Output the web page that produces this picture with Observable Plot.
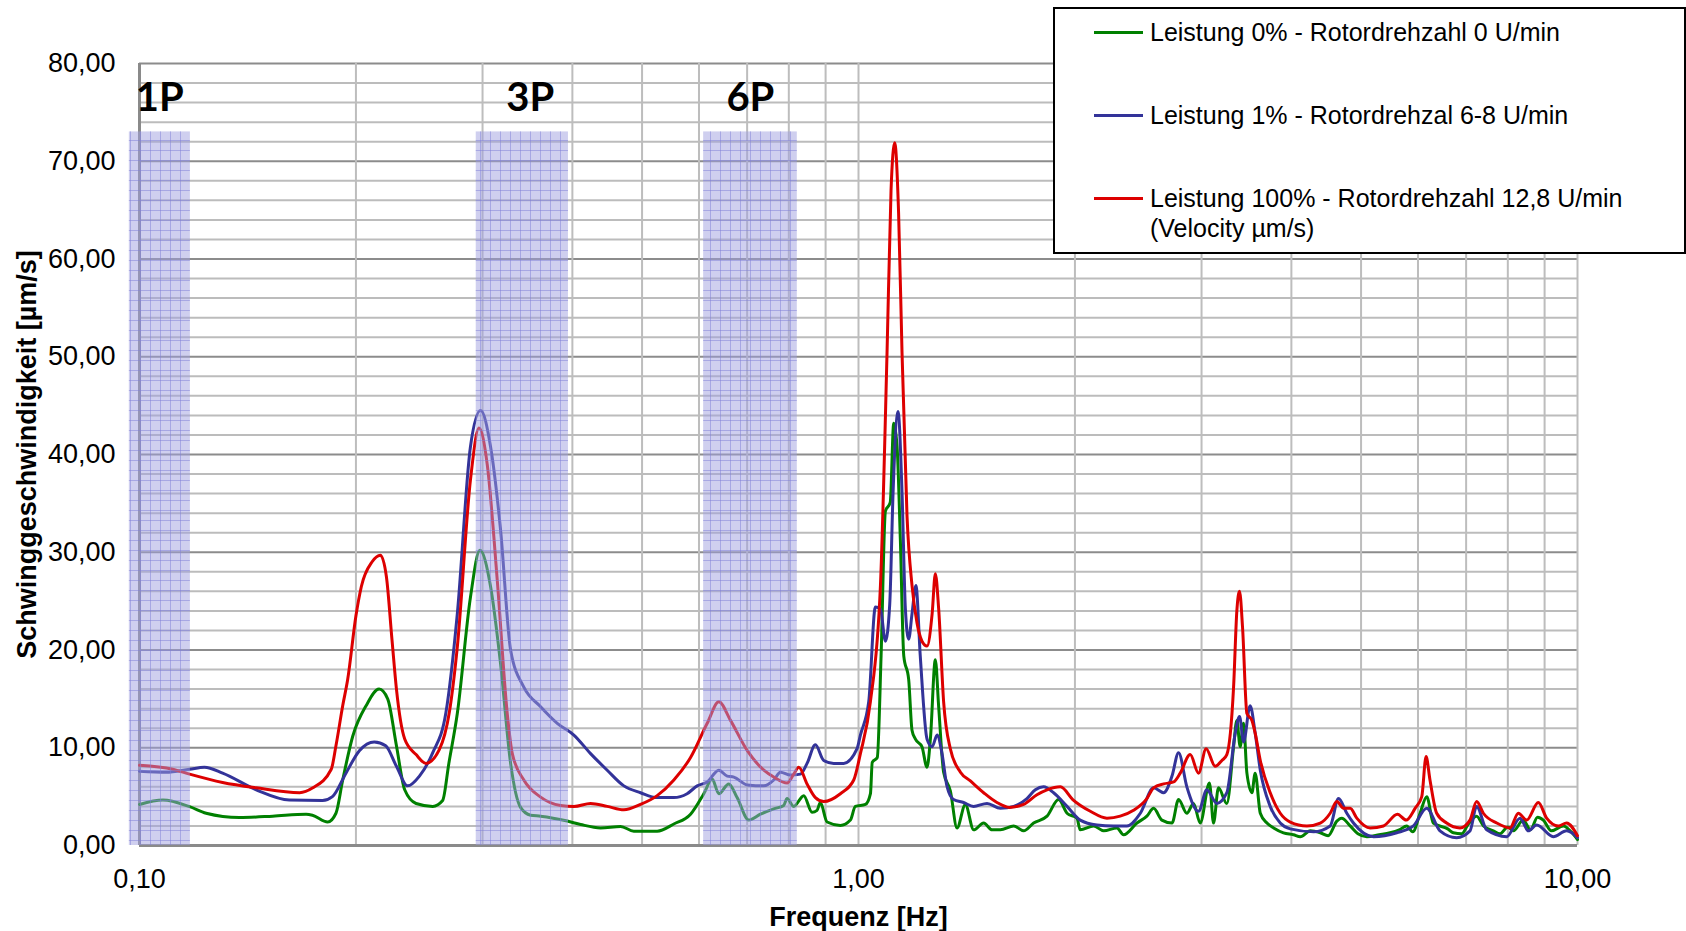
<!DOCTYPE html>
<html><head><meta charset="utf-8">
<script src="https://cdn.jsdelivr.net/npm/d3@7"></script>
<script src="https://cdn.jsdelivr.net/npm/@observablehq/plot@0.6"></script>
<style>
body{margin:0;background:#fff;}
#wrap{position:relative;width:1686px;height:931px;overflow:hidden;font-family:"Liberation Sans",Arial,sans-serif;}
#legend{position:absolute;left:1053px;top:7px;width:629px;height:243px;border:2px solid #000;background:#fff;}
.item{position:absolute;left:95px;font-size:25px;line-height:30px;color:#000;white-space:nowrap;}
.swatch{position:absolute;left:39px;width:49px;height:3px;}
</style></head><body><div id="wrap"></div>
<script>
// ---- data ----
const seriesNames = [
  "Leistung 0% - Rotordrehzahl 0 U/min",
  "Leistung 1% - Rotordrehzal 6-8 U/min",
  "Leistung 100% - Rotordrehzahl 12,8 U/min\n(Velocity µm/s)"
];
const seriesColors = ["#008000", "#333399", "#dd0000"];

const greenFreq = [0.1,0.1078,0.1174,0.1238,0.1377,0.1532,0.1705,0.174,0.1827,0.1876,0.1917,0.198,0.2066,0.2154,0.2214,0.2277,0.2338,0.2425,0.2558,0.264,0.2693,0.2767,0.2886,0.2975,0.3078,0.3178,0.3282,0.3388,0.3499,0.3613,0.3935,0.4107,0.4378,0.4667,0.487,0.5248,0.5536,0.584,0.6093,0.6259,0.6393,0.66,0.6779,0.7037,0.7304,0.7623,0.787,0.7955,0.8127,0.8391,0.8618,0.8757,0.8851,0.9043,0.9437,0.9744,0.99,1.0226,1.039,1.045,1.062,1.075,1.09,1.107,1.1194,1.1313,1.1434,1.156,1.1743,1.1869,1.1995,1.2254,1.2453,1.2589,1.279,1.2927,1.3134,1.3419,1.371,1.408,1.446,1.493,1.534,1.575,1.644,1.697,1.752,1.829,1.898,1.95,2.013,2.034,2.123,2.193,2.288,2.337,2.439,2.518,2.573,2.642,2.729,2.787,2.862,2.924,2.987,3.077,3.117,3.167,3.253,3.324,3.359,3.395,3.432,3.469,3.525,3.562,3.621,3.699,3.779,3.9,4.027,4.115,4.25,4.388,4.5,4.627,4.7,4.829,4.95,5.093,5.3,5.487,5.65,5.788,5.9,6.04,6.17,6.302,6.6,6.719,6.9,7.05,7.24,7.4,7.638,7.8,8.0,8.143,8.407,8.6,8.8,8.963,9.2,9.556,9.8,10];
const greenVel  = [4.2,4.65,3.97,3.3,2.86,3.0,3.2,3.1,2.4,3.3,6.7,11.2,14.3,16,15,10.2,5.7,4.3,4.0,4.6,8.4,13.5,25.4,30.2,26.5,18.6,8.4,3.9,3.1,3.0,2.5,2.15,1.8,1.95,1.47,1.47,2.2,3.2,5.3,6.8,5.3,6.3,4.9,2.6,3.2,3.75,4.1,4.8,4.0,5.1,3.4,3.6,4.4,2.4,2.05,2.6,4.0,4.2,5.3,8.5,9.0,19.4,34.2,35.1,43.2,40.9,31.3,19.4,17,11.8,10.9,10.1,8.0,10.9,19,14.2,7.5,5.6,1.8,4.2,1.6,2.3,1.6,1.6,2.0,1.5,2.3,3.0,4.7,3.3,2.8,1.6,2.0,1.5,1.8,1.1,2.3,3.0,3.8,2.6,2.3,4.7,3.3,4.3,2.3,6.4,2.3,5.9,4.3,10.1,12.8,10.1,12.5,7.4,5.4,7.4,3.3,2.3,1.8,1.3,1.1,0.9,1.5,1.3,1.0,2.5,2.8,2.0,1.2,0.9,1.1,1.3,1.6,2.0,1.4,3.3,5.0,2.3,1.7,1.3,1.2,2.2,3.0,2.0,1.5,1.2,1.9,1.5,2.6,1.6,2.9,2.6,1.5,2.0,1.4,0.6];

const blueFreq = [0.1,0.1089,0.1174,0.1231,0.1305,0.1453,0.1616,0.1797,0.1855,0.1937,0.2022,0.2121,0.22,0.2277,0.236,0.2451,0.2558,0.2668,0.2767,0.2886,0.2981,0.3078,0.3178,0.3282,0.3424,0.3613,0.3811,0.4019,0.424,0.4472,0.4717,0.4976,0.5248,0.5536,0.5776,0.5966,0.616,0.6393,0.6568,0.6709,0.7003,0.7385,0.7623,0.7788,0.8042,0.8303,0.8481,0.8711,0.8946,0.9237,0.9537,0.9954,1.0061,1.0333,1.0556,1.0728,1.09,1.1052,1.1171,1.135,1.1496,1.162,1.1743,1.1869,1.2019,1.2187,1.2453,1.2659,1.2863,1.3066,1.3272,1.3559,1.4,1.4455,1.5093,1.575,1.644,1.715,1.762,1.809,1.868,1.95,2.034,2.146,2.263,2.362,2.466,2.573,2.657,2.729,2.787,2.862,2.971,3.051,3.151,3.253,3.342,3.388,3.432,3.505,3.562,3.621,3.738,3.86,3.986,4.295,4.529,4.652,4.777,4.88,5.203,5.606,5.913,6.17,6.438,6.791,7.087,7.24,7.476,7.971,8.318,8.543,8.774,9.254,9.658,10];
const blueVel  = [7.6,7.5,7.8,8.0,7.4,5.7,4.65,4.6,5.0,7.4,9.7,10.6,10.2,8.1,6.1,7.1,9.5,13.6,23.7,40.8,44.5,40.8,32.3,20,16.2,14.2,12.5,11.3,9.4,7.7,6.1,5.4,4.9,4.9,5.3,6.1,6.5,7.7,7.1,7.0,6.2,6.1,6.7,7.5,7.2,7.3,8.4,10.3,8.7,8.4,8.4,9.9,11.3,14.7,24.4,24.2,20.9,24.7,36.1,44.4,36.1,24.2,21.1,23.7,26.6,19.4,10.9,10.1,11.3,9.4,6.1,4.7,4.4,4.0,4.3,3.8,4.0,4.8,5.7,6.0,5.4,4.0,2.6,2.1,2.0,2.0,3.3,5.9,5.4,7.1,9.5,6.0,3.5,5.7,4.3,5.4,11.5,13.2,10.6,14.3,11.5,7.7,4.0,2.3,1.7,1.4,2.0,4.8,3.3,2.3,0.9,1.3,2.0,3.8,1.5,0.8,1.5,4.0,1.6,0.9,2.8,1.5,2.1,0.9,1.5,0.8];

const redFreq = [0.1,0.1112,0.1174,0.1305,0.1453,0.167,0.1742,0.1848,0.1876,0.1917,0.1948,0.2,0.2035,0.2105,0.2163,0.2205,0.2245,0.2277,0.2338,0.2425,0.2503,0.2612,0.2697,0.2767,0.2886,0.2966,0.3045,0.3145,0.3247,0.33,0.3424,0.3613,0.3851,0.4019,0.424,0.4472,0.4717,0.4976,0.5248,0.5536,0.584,0.616,0.6393,0.6637,0.7004,0.7385,0.7623,0.7955,0.8127,0.8259,0.8481,0.8711,0.8946,0.9437,0.9849,1.0061,1.0388,1.0728,1.0957,1.1098,1.1229,1.137,1.1496,1.1681,1.1869,1.2059,1.2254,1.2453,1.2659,1.279,1.2927,1.3134,1.3419,1.386,1.431,1.493,1.558,1.622,1.697,1.771,1.829,1.909,1.986,2.101,2.216,2.312,2.413,2.518,2.573,2.657,2.743,2.802,2.893,2.971,3.044,3.134,3.202,3.253,3.324,3.359,3.388,3.421,3.469,3.525,3.562,3.621,3.738,3.86,3.986,4.204,4.388,4.529,4.627,4.727,4.829,4.932,5.148,5.372,5.618,5.776,5.945,6.073,6.157,6.235,6.37,6.577,6.864,7.087,7.24,7.397,7.72,8.056,8.274,8.497,8.82,9.059,9.404,9.658,10];
const redVel  = [8.2,7.8,7.3,6.45,5.9,5.4,5.9,7.8,10.2,14.3,17,23.5,26.5,29,29.7,27.5,21,16,10.9,9.3,8.4,9.8,13.6,20.3,37.4,42.7,39,27.1,13.5,9.4,6.7,4.95,4.1,4.0,4.3,4.0,3.65,4.2,5.1,6.7,9.0,12.5,14.7,12.8,9.7,7.7,7.0,6.4,7.3,8.0,6.3,4.9,4.5,5.3,6.7,9.4,14.7,26.6,50.4,67,71.9,64.7,50.4,33.7,26.6,22.8,20.9,20.4,23.7,27.8,24.2,14.7,9.9,7.5,6.6,5.4,4.4,3.9,4.2,5.2,5.7,6.0,4.7,3.5,2.8,3.0,3.6,4.8,5.9,6.3,6.5,7.4,9.3,7.4,9.9,8.1,8.7,9.3,16.2,24.0,26,22.3,13.5,12.8,11.5,8.7,5.4,3.3,2.4,2.0,2.3,3.3,4.5,3.8,3.8,2.8,1.8,2.0,3.2,2.6,3.8,5.0,9.1,6.7,3.3,2.3,1.8,2.6,4.5,3.3,2.3,1.8,3.3,2.6,4.4,2.8,2.0,2.3,1.0];

const bandLabels = ["1P", "3P", "6P"];
const bandLow  = [0.0968, 0.294, 0.609];
const bandHigh = [0.1177, 0.395, 0.822];
const bandLabelFreq = [0.1067, 0.3496, 0.7073];
const bandTop = 73;
const bandLabelY = 76.5;

const xTicks = [0.1, 1, 10];
const xGrid = [0.2,0.3,0.4,0.5,0.6,0.7,0.8,0.9,1,2,3,4,5,6,7,8,9,10];
const yTicks = [0,10,20,30,40,50,60,70,80];
const yMinor = d3.range(2, 80, 2).filter(v => v % 10 !== 0);
const xTitle = "Frequenz [Hz]";
const yTitle = "Schwinggeschwindigkeit [µm/s]";

// ---- build ----
const fmt = d => d.toFixed(2).replace(".", ",");
const mk = (F, V, s) => F.map((f, i) => ({f, v: V[i], s}));
const rows = [
  ...mk(greenFreq, greenVel, 0),
  ...mk(blueFreq, blueVel, 1),
  ...mk(redFreq, redVel, 2)
];
const bands = bandLabels.map((label, i) => ({label, lo: bandLow[i], hi: bandHigh[i], lx: bandLabelFreq[i]}));

const chart = Plot.plot({
  width: 1686, height: 931,
  marginLeft: 139, marginRight: 109, marginTop: 63, marginBottom: 86,
  style: {fontFamily: "'Liberation Sans', Arial, sans-serif", fontSize: "27px", color: "#000", background: "#fff", overflow: "visible"},
  x: {type: "log", domain: [0.1, 10], ticks: xTicks, tickFormat: fmt, tickSize: 0, tickPadding: 23, label: null},
  y: {domain: [0, 80], ticks: yTicks, tickFormat: fmt, tickSize: 0, tickPadding: 24, label: null},
  marks: [
    Plot.ruleY(yMinor, {stroke: "#bcbcbc", strokeWidth: 2}),
    Plot.ruleY(yTicks.filter(v => v > 0), {stroke: "#8c8c8c", strokeWidth: 2}),
    Plot.ruleX(xGrid, {stroke: "#bdbdbd", strokeWidth: 2}),
    Plot.ruleX([0.1], {stroke: "#8a8a8a", strokeWidth: 3}),
    Plot.ruleY([0], {stroke: "#8a8a8a", strokeWidth: 3}),
    ...[0, 1, 2].map(s => Plot.line(rows.filter(d => d.s === s), {
      x: "f", y: "v", stroke: seriesColors[s], strokeWidth: 3, curve: "monotone-x"
    })),
    Plot.rect(bands, {x1: "lo", x2: "hi", y1: d => 0, y2: d => bandTop, fill: "#9fa0e0", fillOpacity: 0.5}),
    Plot.rect(bands, {x1: "lo", x2: "hi", y1: d => 0, y2: d => bandTop, fill: "url(#bandgrid)"}),
    Plot.text(bands, {x: "lx", y: d => bandLabelY, text: "label",
      fontFamily: "Lato, 'Open Sans', sans-serif", fontWeight: "bold", fontSize: 40, fill: "#000"}),
    Plot.text([xTitle], {frameAnchor: "bottom", dy: 80, fontWeight: "bold", fontSize: 27, fill: "#000"}),
    Plot.text([yTitle], {frameAnchor: "left", textAnchor: "middle", rotate: -90, dx: -112, fontWeight: "bold", fontSize: 27, fill: "#000"})
  ]
});

const ns = "http://www.w3.org/2000/svg";
const defs = document.createElementNS(ns, "defs");
defs.innerHTML = '<pattern id="bandgrid" width="10" height="10" patternUnits="userSpaceOnUse">' +
  '<path d="M0 0.5H10M0.5 0V10" stroke="#7f7fd8" stroke-opacity="0.5" stroke-width="1" fill="none"/></pattern>';
chart.insertBefore(defs, chart.firstChild);

const wrap = document.getElementById("wrap");
wrap.appendChild(chart);

// legend (overlaps plot area, as in the reference)
const legend = document.createElement("div");
legend.id = "legend";
const rowCenters = [23, 106, 189];
seriesNames.forEach((name, i) => {
  const sw = document.createElement("div");
  sw.className = "swatch";
  sw.style.top = (rowCenters[i] - 1.5) + "px";
  sw.style.background = seriesColors[i];
  legend.appendChild(sw);
  const t = document.createElement("div");
  t.className = "item";
  t.style.top = (rowCenters[i] - 15) + "px";
  t.innerHTML = name.split("\n").join("<br>");
  legend.appendChild(t);
});
wrap.appendChild(legend);
</script></body></html>
